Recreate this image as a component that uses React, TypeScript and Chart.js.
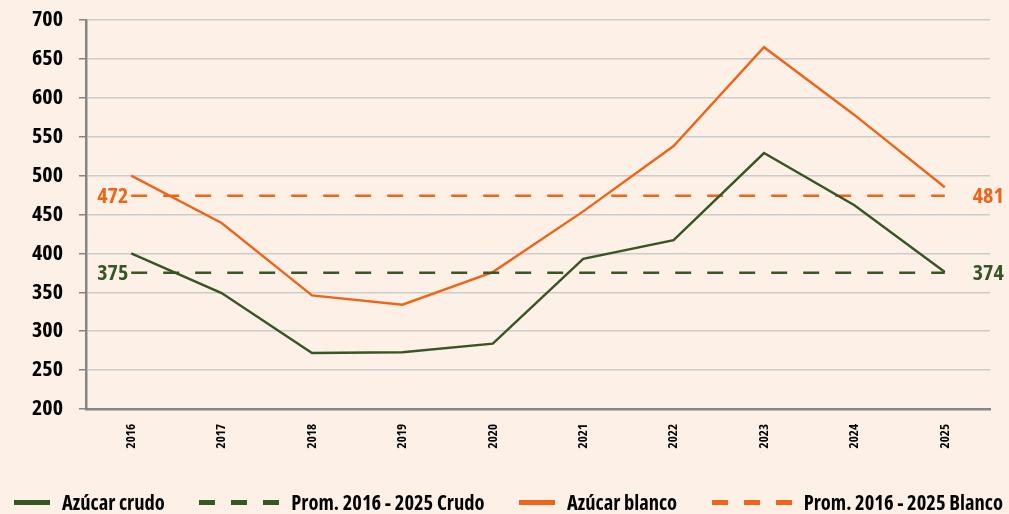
import React, { useEffect, useRef } from "react";
import { Chart, registerables } from "chart.js";

Chart.register(...registerables);

const years = ["2016", "2017", "2018", "2019", "2020", "2021", "2022", "2023", "2024", "2025"];
const crudo = [400, 349, 272, 273, 284, 393, 417, 529, 462, 376];
const blanco = [500, 439, 346, 334, 376, 454, 538, 665, 578, 485];
const promCrudoValue = 375;
const promBlancoValue = 474;
const promCrudoLabels = ["375", "374"];
const promBlancoLabels = ["472", "481"];
const yTicks = [200, 250, 300, 350, 400, 450, 500, 550, 600, 650, 700];

const GREEN = "#375623";
const ORANGE = "#EE6519";
const BG = "#FDF0E7";
const FONT = "'Open Sans', sans-serif";
const CANVAS_WEIGHT = "bold condensed";

const legendItems = [
  { label: "Azúcar crudo", color: GREEN, dashed: false },
  { label: "Prom. 2016 - 2025 Crudo", color: GREEN, dashed: true },
  { label: "Azúcar blanco", color: ORANGE, dashed: false },
  { label: "Prom. 2016 - 2025 Blanco", color: ORANGE, dashed: true },
];

const avgLabelPlugin = {
  id: "avgLabels",
  afterDatasetsDraw(chart: any) {
    const { ctx, scales } = chart;
    const x = scales.x;
    const y = scales.y;
    const x0 = x.getPixelForValue(0);
    const x1 = x.getPixelForValue(years.length - 1);
    ctx.save();
    ctx.font = `${CANVAS_WEIGHT} 22px ${FONT}`;
    ctx.textBaseline = "middle";
    const items = [
      { v: promBlancoValue, labels: promBlancoLabels, color: ORANGE },
      { v: promCrudoValue, labels: promCrudoLabels, color: GREEN },
    ];
    for (const it of items) {
      const py = y.getPixelForValue(it.v);
      ctx.fillStyle = it.color;
      ctx.textAlign = "right";
      ctx.fillText(it.labels[0], x0 - 3, py + 1);
      ctx.textAlign = "left";
      ctx.fillText(it.labels[1], x1 + 28, py + 1);
    }
    ctx.restore();
  },
};

export default function App() {
  const ref = useRef<HTMLCanvasElement>(null);
  useEffect(() => {
    document.body.style.margin = "0";
    document.body.style.background = BG;
    const chart = new Chart(ref.current!, {
      type: "line",
      data: {
        labels: years,
        datasets: [
          {
            label: "Azúcar crudo",
            data: crudo,
            borderColor: GREEN,
            borderWidth: 2.4,
            pointRadius: 0,
            tension: 0,
          },
          {
            label: "Prom. 2016 - 2025 Crudo",
            data: years.map(() => promCrudoValue),
            borderColor: GREEN,
            borderWidth: 2.5,
            borderDash: [16, 16],
            pointRadius: 0,
          },
          {
            label: "Azúcar blanco",
            data: blanco,
            borderColor: ORANGE,
            borderWidth: 2.4,
            pointRadius: 0,
            tension: 0,
          },
          {
            label: "Prom. 2016 - 2025 Blanco",
            data: years.map(() => promBlancoValue),
            borderColor: ORANGE,
            borderWidth: 2.5,
            borderDash: [16, 16],
            pointRadius: 0,
          },
        ],
      },
      options: {
        animation: false,
        responsive: false,
        layout: { padding: { top: 20, right: 19, left: 0, bottom: 0 } },
        plugins: { legend: { display: false }, tooltip: { enabled: false } },
        scales: {
          x: {
            offset: true,
            grid: { display: false, offset: true, drawTicks: false },
            border: { display: true, color: "#858585", width: 2.5 },
            ticks: {
              minRotation: 90,
              maxRotation: 90,
              padding: 15,
              color: "#000",
              font: { family: FONT, size: 13, weight: CANVAS_WEIGHT as any },
            },
            afterFit(scale: any) {
              scale.height = 105;
              scale.paddingLeft = 0;
              scale.paddingRight = 0;
            },
          },
          y: {
            min: 200,
            max: 700,
            afterBuildTicks(scale: any) {
              scale.ticks = yTicks.map((v) => ({ value: v }));
            },
            grid: {
              color: "#CBCBCB",
              lineWidth: 1.5,
              drawTicks: true,
              tickLength: 7,
              tickColor: "#858585",
            },
            border: { display: true, color: "#858585", width: 2.5 },
            ticks: {
              padding: 16,
              color: "#000",
              font: { family: FONT, size: 22, weight: CANVAS_WEIGHT as any },
            },
            afterFit(scale: any) {
              scale.width = 86;
              scale.paddingTop = 0;
              scale.paddingBottom = 0;
            },
          },
        },
      },
      plugins: [avgLabelPlugin],
    });
    return () => chart.destroy();
  }, []);

  return (
    <div style={{ position: "relative", width: 1009, height: 514, background: BG }}>
      <canvas ref={ref} width={1009} height={514} style={{ display: "block" }} />
      <div
        style={{
          position: "absolute",
          left: 14,
          right: 6,
          top: 486,
          height: 32,
          display: "flex",
          justifyContent: "space-between",
          alignItems: "center",
          fontFamily: FONT,
          fontWeight: 700,
          fontStretch: "condensed",
          fontSize: 20.5,
          color: "#000",
          whiteSpace: "nowrap",
        }}
      >
        {legendItems.map((it) => (
          <div key={it.label} style={{ display: "flex", alignItems: "center" }}>
            <div
              style={{
                width: it.dashed ? 80 : 36,
                height: 5,
                marginRight: 12,
                background: it.dashed
                  ? `repeating-linear-gradient(to right, ${it.color} 0 16px, transparent 16px 32px)`
                  : it.color,
              }}
            />
            <span style={{ lineHeight: "32px" }}>{it.label}</span>
          </div>
        ))}
      </div>
    </div>
  );
}
